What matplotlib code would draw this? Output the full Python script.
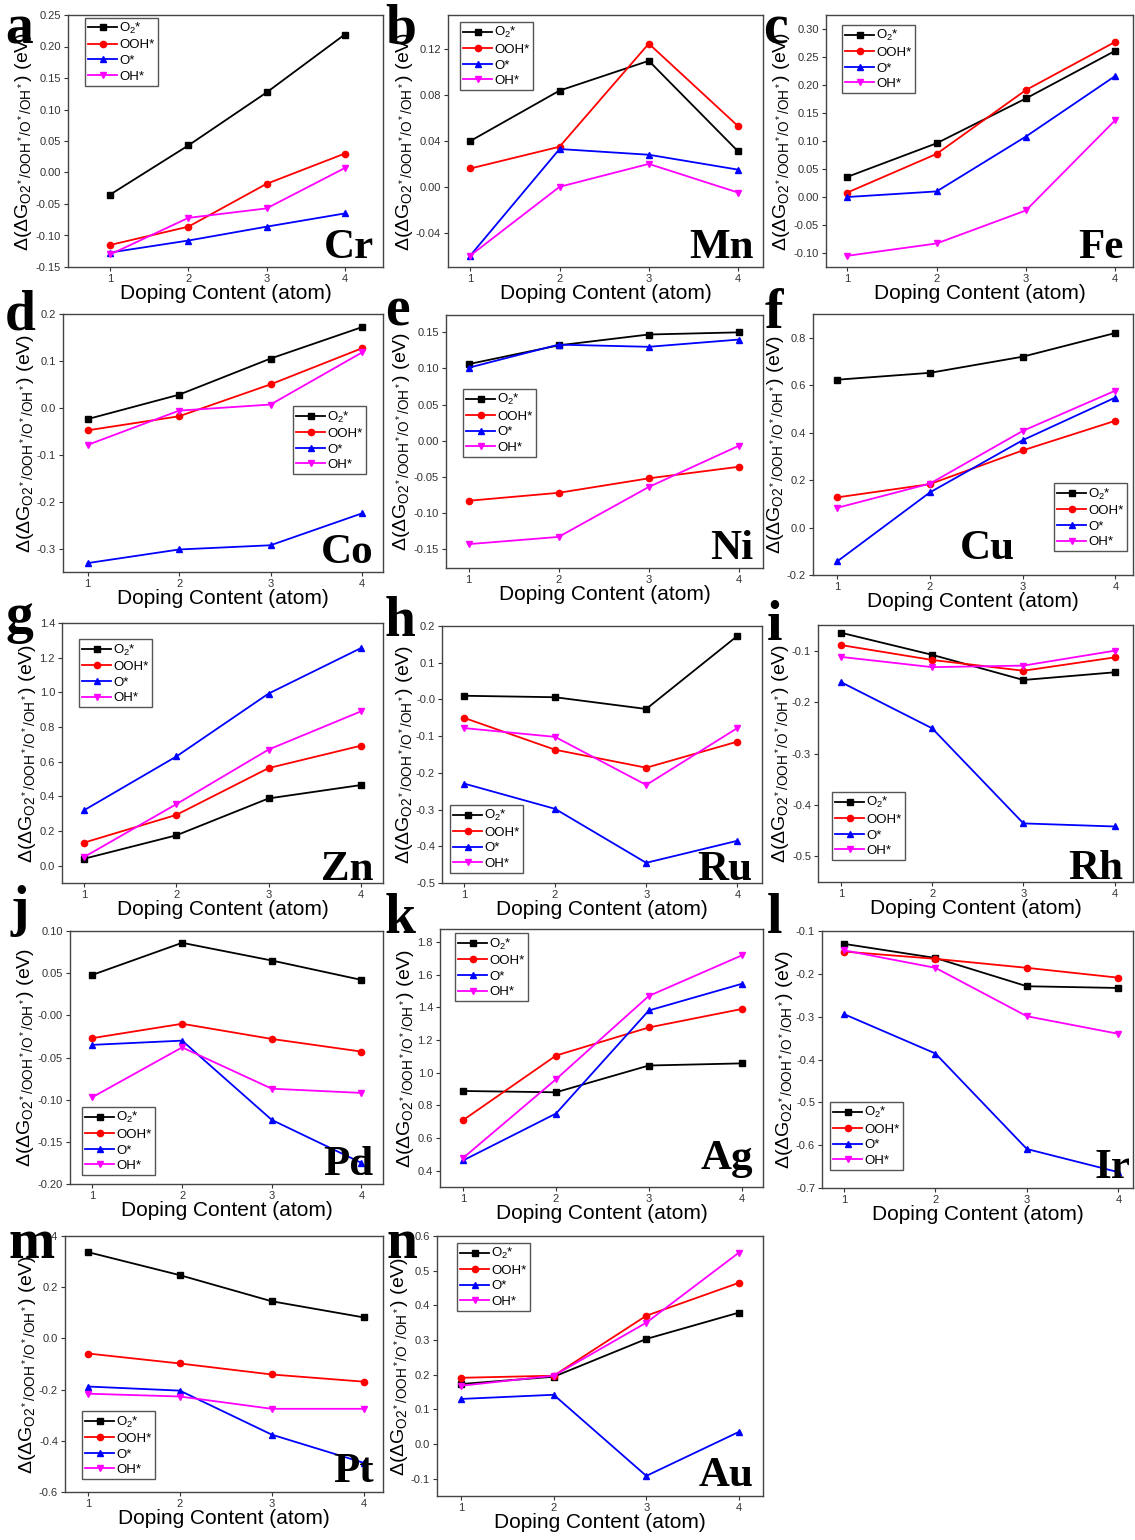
import matplotlib.pyplot as plt
import numpy as np

plt.rcParams['font.family'] = ['Liberation Sans', 'DejaVu Sans']
plt.rcParams['axes.unicode_minus'] = False
plt.rcParams['mathtext.fontset'] = 'custom'
plt.rcParams['mathtext.rm'] = 'Liberation Sans'
plt.rcParams['mathtext.it'] = 'Liberation Sans:italic'

# doping content (atoms)
doping = [1, 2, 3, 4]
species = ['O2', 'OOH', 'O', 'OH']
labels = [r'O$_2$*', 'OOH*', 'O*', 'OH*']

# values (eV)
cr = {'O2': [-0.035, 0.043, 0.127, 0.219], 'OOH': [-0.115, -0.086, -0.018, 0.030],
      'O': [-0.127, -0.108, -0.086, -0.065], 'OH': [-0.130, -0.072, -0.057, 0.007]}
mn = {'O2': [0.040, 0.084, 0.110, 0.031], 'OOH': [0.016, 0.035, 0.125, 0.053],
      'O': [-0.060, 0.033, 0.028, 0.015], 'OH': [-0.060, 0.000, 0.020, -0.005]}
fe = {'O2': [0.036, 0.096, 0.176, 0.261], 'OOH': [0.008, 0.077, 0.191, 0.277],
      'O': [0.000, 0.010, 0.108, 0.216], 'OH': [-0.105, -0.083, -0.024, 0.137]}
co = {'O2': [-0.024, 0.028, 0.105, 0.172], 'OOH': [-0.048, -0.018, 0.050, 0.127],
      'O': [-0.331, -0.302, -0.293, -0.225], 'OH': [-0.079, -0.006, 0.007, 0.118]}
ni = {'O2': [0.106, 0.132, 0.147, 0.150], 'OOH': [-0.083, -0.072, -0.052, -0.036],
      'O': [0.101, 0.133, 0.130, 0.140], 'OH': [-0.143, -0.133, -0.064, -0.007]}
cu = {'O2': [0.623, 0.652, 0.720, 0.820], 'OOH': [0.127, 0.183, 0.325, 0.450],
      'O': [-0.143, 0.148, 0.368, 0.548], 'OH': [0.083, 0.185, 0.407, 0.577]}
zn = {'O2': [0.040, 0.175, 0.388, 0.465], 'OOH': [0.133, 0.293, 0.563, 0.692],
      'O': [0.320, 0.630, 0.993, 1.255], 'OH': [0.050, 0.355, 0.670, 0.890]}
ru = {'O2': [0.010, 0.006, -0.026, 0.173], 'OOH': [-0.050, -0.137, -0.186, -0.115],
      'O': [-0.229, -0.298, -0.445, -0.385], 'OH': [-0.078, -0.102, -0.233, -0.078]}
rh = {'O2': [-0.065, -0.108, -0.157, -0.142], 'OOH': [-0.089, -0.118, -0.139, -0.113],
      'O': [-0.161, -0.251, -0.436, -0.442], 'OH': [-0.112, -0.132, -0.129, -0.100]}
pd_ = {'O2': [0.048, 0.086, 0.065, 0.042], 'OOH': [-0.027, -0.010, -0.028, -0.043],
       'O': [-0.035, -0.030, -0.124, -0.175], 'OH': [-0.097, -0.038, -0.087, -0.092]}
ag = {'O2': [0.888, 0.880, 1.044, 1.057], 'OOH': [0.710, 1.105, 1.277, 1.390],
      'O': [0.463, 0.750, 1.381, 1.544], 'OH': [0.478, 0.960, 1.470, 1.718]}
ir = {'O2': [-0.130, -0.163, -0.229, -0.233], 'OOH': [-0.148, -0.165, -0.186, -0.209],
      'O': [-0.294, -0.386, -0.609, -0.663], 'OH': [-0.145, -0.186, -0.299, -0.340]}
pt = {'O2': [0.337, 0.247, 0.145, 0.082], 'OOH': [-0.059, -0.098, -0.141, -0.169],
      'O': [-0.188, -0.204, -0.376, -0.486], 'OH': [-0.216, -0.227, -0.275, -0.275]}
au = {'O2': [0.173, 0.194, 0.303, 0.379], 'OOH': [0.191, 0.197, 0.370, 0.465],
      'O': [0.130, 0.142, -0.092, 0.035], 'OH': [0.168, 0.197, 0.350, 0.552]}

colors = ['black', 'red', 'blue', 'magenta']
markers = ['s', 'o', '^', 'v']

W, H = 1135, 1540

# panel: letter, element, data, axes box px [l, t, r, b], xlim, ylim, yticks, fmt, legend anchor, element pos, letter pos
panels = [
    ('a', 'Cr', cr, [68, 15, 383, 267], (0.46, 4.49), (-0.15, 0.25), np.arange(-0.15, 0.26, 0.05), '%.2f', (0.054, 0.99), (0.97, 0.035), (5, 43)),
    ('b', 'Mn', mn, [448, 15, 763, 267], (0.75, 4.28), (-0.07, 0.15), np.arange(-0.04, 0.13, 0.04), '%.2f', (0.038, 0.972), (0.97, 0.035), (385, 43)),
    ('c', 'Fe', fe, [826, 15, 1133, 267], (0.76, 4.2), (-0.125, 0.325), np.arange(-0.10, 0.31, 0.05), '%.2f', (0.052, 0.96), (0.97, 0.035), (763, 43)),
    ('d', 'Co', co, [63, 314, 383, 572], (0.73, 4.23), (-0.35, 0.2), np.arange(-0.3, 0.21, 0.1), '%.1f', (0.719, 0.643), (0.97, 0.035), (5, 330)),
    ('e', 'Ni', ni, [446, 315, 763, 568], (0.75, 4.27), (-0.176, 0.174), np.arange(-0.15, 0.16, 0.05), '%.2f', (0.054, 0.708), (0.97, 0.035), (385, 325)),
    ('f', 'Cu', cu, [813, 314, 1133, 575], (0.74, 4.19), (-0.2, 0.9), np.arange(-0.2, 0.81, 0.2), '%.1f', (0.753, 0.352), (0.63, 0.06), (765, 328)),
    ('g', 'Zn', zn, [62, 623, 383, 883], (0.76, 4.24), (-0.1, 1.4), np.arange(0.0, 1.41, 0.2), '%.1f', (0.053, 0.938), (0.97, 0.01), (5, 632)),
    ('h', 'Ru', ru, [442, 626, 762, 883], (0.76, 4.27), (-0.5, 0.2), np.arange(-0.5, 0.21, 0.1), '%.1f', (0.025, 0.304), (0.97, 0.01), (385, 636)),
    ('i', 'Rh', rh, [818, 625, 1133, 882], (0.75, 4.2), (-0.55, -0.05), np.arange(-0.5, -0.09, 0.1), '%.1f', (0.044, 0.35), (0.97, 0.01), (767, 640)),
    ('j', 'Pd', pd_, [70, 931, 383, 1184], (0.75, 4.24), (-0.2, 0.1), np.arange(-0.2, 0.11, 0.05), '%.2f', (0.038, 0.304), (0.97, 0.035), (10, 925)),
    ('k', 'Ag', ag, [440, 929, 763, 1187], (0.75, 4.23), (0.3, 1.88), np.arange(0.4, 1.81, 0.2), '%.1f', (0.046, 0.984), (0.97, 0.07), (385, 933)),
    ('l', 'Ir', ir, [822, 931, 1133, 1188], (0.76, 4.16), (-0.7, -0.1), np.arange(-0.7, -0.09, 0.1), '%.1f', (0.026, 0.335), (0.99, 0.04), (767, 933)),
    ('m', 'Pt', pt, [65, 1236, 383, 1492], (0.75, 4.21), (-0.6, 0.4), np.arange(-0.6, 0.41, 0.2), '%.1f', (0.053, 0.316), (0.97, 0.04), (8, 1258)),
    ('n', 'Au', au, [437, 1236, 763, 1496], (0.74, 4.26), (-0.15, 0.6), np.arange(-0.1, 0.61, 0.1), '%.1f', (0.061, 0.973), (0.97, 0.04), (386, 1258)),
]

ylab = r'$\Delta(\Delta\mathrm{G}_{\mathrm{O2^*/OOH^*/O^*/OH^*}})$ (eV)'


def main():
    fig = plt.figure(figsize=(W / 100, H / 100), dpi=100)
    for letter, elem, vals, box, xl, yl, yt, fmt, leg, epos, lpos in panels:
        l, t, r, b = box
        ax = fig.add_axes([l / W, 1 - b / H, (r - l) / W, (b - t) / H])
        for sp, lab, c, m in zip(species, labels, colors, markers):
            ax.plot(doping, vals[sp], '-', color=c, marker=m, ms=4.5, lw=1.3, label=lab)
        ax.set_xlim(xl)
        ax.set_ylim(yl)
        ax.set_xticks(doping)
        ax.set_yticks(yt)
        ax.set_yticklabels([fmt % v for v in yt])
        ax.tick_params(labelsize=8, length=3, width=0.8, direction='out', colors='#333333', pad=2)
        for s in ax.spines.values():
            s.set_color('#444444')
            s.set_linewidth(1.0)
        ax.set_xlabel('Doping Content (atom)', fontsize=15, labelpad=0)
        ax.set_ylabel(ylab, fontsize=14, labelpad=1)
        ax.legend(loc='upper left', bbox_to_anchor=leg, fontsize=9.5, frameon=True, fancybox=False,
                  edgecolor='#555555', framealpha=1, borderpad=0.25, labelspacing=0.25,
                  handlelength=2.2, handletextpad=0.15, borderaxespad=0)
        ax.text(epos[0], epos[1], elem, transform=ax.transAxes, ha='right', va='baseline',
                fontsize=31, fontweight='bold', family=['Liberation Serif'])
        fig.text(lpos[0] / W, 1 - lpos[1] / H, letter, ha='left', va='baseline',
                 fontsize=40, fontweight='bold', family=['Liberation Serif'])

    plt.savefig('out.png', dpi=100)


if __name__ == '__main__':
    main()
